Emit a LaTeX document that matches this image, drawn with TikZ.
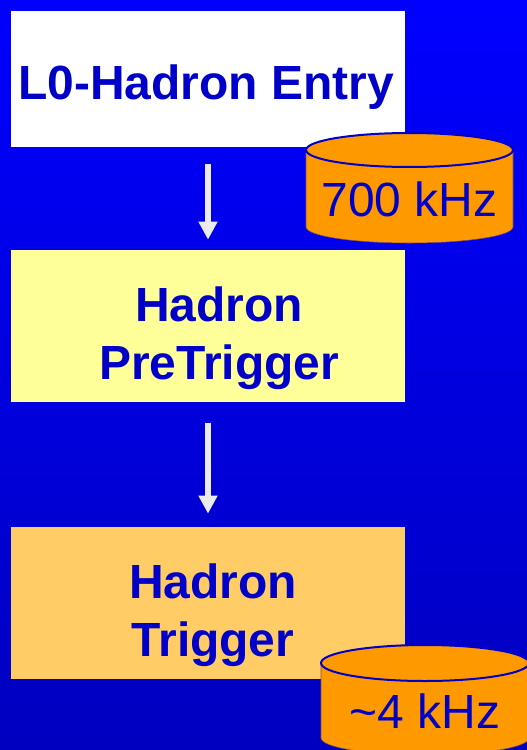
\documentclass[tikz,border=0pt]{standalone}
\usepackage{fontspec}
\setmainfont{Liberation Sans}
\usetikzlibrary{arrows.meta}
\definecolor{textblue}{RGB}{0,0,200}
\definecolor{paleyellow}{RGB}{255,255,153}
\definecolor{paleorange}{RGB}{255,204,102}
\definecolor{tankorange}{RGB}{255,153,0}
\tikzset{
	stage/.style={minimum width=394*0.02cm, inner sep=0pt},
	stagetext/.style={align=center, inner sep=0pt, text=textblue, font=\fontsize{27.3}{33}\selectfont\bfseries},
	tank/.style={fill=tankorange, draw=textblue!50!tankorange, line width=0.3pt},
	tanktext/.style={inner sep=0pt, text=textblue, font=\fontsize{27.3}{30}\selectfont},
	rim/.style={draw=textblue, line width=2*0.02cm},
	flow/.style={-{Triangle[length=18*0.02cm, width=18*0.02cm]}, draw=white!92!black, line width=6*0.02cm}
}
\begin{document}
\begin{tikzpicture}[x=0.02cm, y=-0.02cm]
	\useasboundingbox (0,0) rectangle (527,750);
	\shade[top color=blue, bottom color=blue!75!black] (0,0) rectangle (527,750);

	\node[stage, fill=white, minimum height=136*0.02cm] (entry) at (208,79) {};
	\node[stage, fill=paleyellow, minimum height=152*0.02cm] (pre) at (208,326) {};
	\node[stage, fill=paleorange, minimum height=152*0.02cm] (trig) at (208,603) {};

	\node[stagetext] (entrytext) at (206,87) {L0-Hadron Entry};
	\node[stagetext] (pretext) at (219,338) {Hadron\\PreTrigger};
	\node[stagetext] (trigtext) at (213,615) {Hadron\\Trigger};

	\draw[flow, shorten <=17*0.02cm, shorten >=10*0.02cm] (entry) -- (pre);
	\draw[flow, shorten <=21*0.02cm, shorten >=13*0.02cm] (pre) -- (trig);

	\draw[tank] (306,150) -- (306,227) arc[start angle=180, end angle=0, x radius=103.5, y radius=16] -- (513,150) -- cycle;
	\draw[rim, fill=tankorange] (409.5,150) ellipse (103.5 and 17);
	\node[tanktext] (rate1) at (409.5,199) {700 kHz};

	\draw[tank] (321,663) -- (321,738) arc[start angle=180, end angle=0, x radius=104, y radius=17] -- (529,663) -- cycle;
	\draw[rim, fill=tankorange] (425,663) ellipse (104 and 18);
	\node[tanktext] (rate2) at (425,711) {\textasciitilde4 kHz};
\end{tikzpicture}
\end{document}
